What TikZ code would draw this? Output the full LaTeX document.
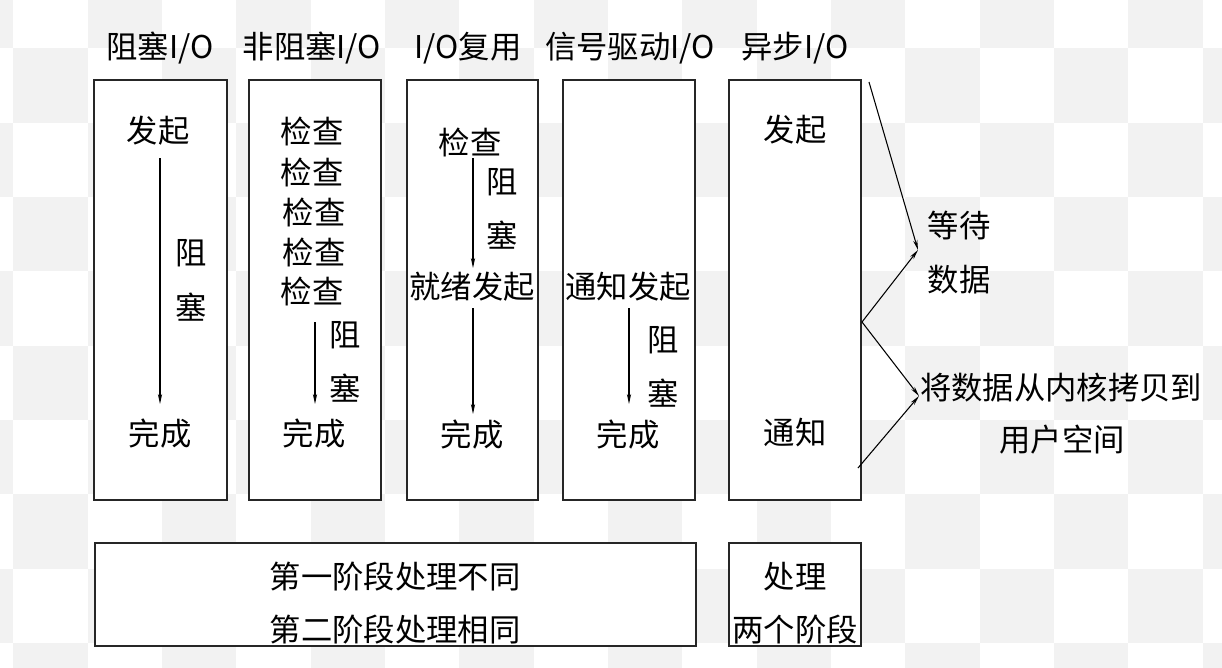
\documentclass[tikz,border=0pt]{standalone}
\usepackage{fontspec}
\newfontfamily\cjk{Noto Sans CJK SC}
\usetikzlibrary{arrows.meta}
\definecolor{chk}{RGB}{242,242,242}
\tikzset{
  lbl/.style={font=\cjk\fontsize{23.5}{28}\selectfont, inner sep=0pt, anchor=center},
  box/.style={draw=black!85, line width=1pt, fill=white, inner sep=0pt},
  arr/.style={draw=black, line width=0.8pt, -{Stealth[length=7.5pt,width=3.2pt]}},
  ln/.style={draw=black, line width=0.8pt}
}
\begin{document}
\begin{tikzpicture}[x=0.75pt,y=-0.75pt]
\useasboundingbox (0,0) rectangle (1222,668);
\fill[white] (0,0) rectangle (1222,668);
\begin{scope}
\clip (0,0) rectangle (1222,668);
\foreach \i in {-1,...,16}{
  \foreach \j in {-1,...,8}{
    \pgfmathtruncatemacro\chkpar{mod(\i+\j+20,2)}
    \ifnum\chkpar=0
      \fill[chk] ({13.4+\i*74.33},{48.3+\j*74.33}) rectangle ({13.4+(\i+1)*74.33},{48.3+(\j+1)*74.33});
    \fi
  }
}
\end{scope}

% titles
\node[lbl] (t1) at (160,48) {阻塞I/O};
\node[lbl] (t2) at (312,48) {非阻塞I/O};
\node[lbl] (t3) at (468,48) {I/O复用};
\node[lbl] (t4) at (630,48) {信号驱动I/O};
\node[lbl] (t5) at (795,48) {异步I/O};

% column boxes
\node[box, minimum width=133*0.75pt, minimum height=420*0.75pt] (c1) at (160.5,290) {};
\node[box, minimum width=132*0.75pt, minimum height=420*0.75pt] (c2) at (315,290) {};
\node[box, minimum width=131*0.75pt, minimum height=420*0.75pt] (c3) at (472.5,290) {};
\node[box, minimum width=132*0.75pt, minimum height=420*0.75pt] (c4) at (629,290) {};
\node[box, minimum width=132*0.75pt, minimum height=420*0.75pt] (c5) at (795,290) {};

% bottom boxes
\node[box, minimum width=601*0.75pt, minimum height=103*0.75pt] (b1) at (395.5,594.5) {};
\node[box, minimum width=132*0.75pt, minimum height=103*0.75pt] (b2) at (795,594.5) {};

% column 1
\node[lbl] (a1) at (158,131) {发起};
\node[lbl] (a2) at (191,253) {阻};
\node[lbl] (a3) at (191,307) {塞};
\node[lbl] (a4) at (160,434) {完成};
\coordinate (a1s) at (160,158);
\coordinate (a1e) at (160,404);
\draw[arr] (a1s) -- (a1e);

% column 2
\node[lbl] (k1) at (312,131) {检查};
\node[lbl] (k2) at (312,172) {检查};
\node[lbl] (k3) at (314,212) {检查};
\node[lbl] (k4) at (314,252) {检查};
\node[lbl] (k5) at (312,291) {检查};
\node[lbl] (k6) at (345,335) {阻};
\node[lbl] (k7) at (345,388) {塞};
\node[lbl] (k8) at (314,434) {完成};
\coordinate (k5s) at (315,322);
\coordinate (k5e) at (315,404);
\draw[arr] (k5s) -- (k5e);

% column 3
\node[lbl] (m1) at (470,142) {检查};
\node[lbl] (m2) at (502,182) {阻};
\node[lbl] (m3) at (502,235) {塞};
\node[lbl] (m4) at (472,287) {就绪发起};
\node[lbl] (m5) at (472,435) {完成};
\coordinate (m1s) at (473,158);
\coordinate (m1e) at (473,268);
\coordinate (m4s) at (473,308);
\coordinate (m4e) at (473,414);
\draw[arr] (m1s) -- (m1e);
\draw[arr] (m4s) -- (m4e);

% column 4
\node[lbl] (s1) at (628,287) {通知发起};
\node[lbl] (s2) at (663,340) {阻};
\node[lbl] (s3) at (663,393) {塞};
\node[lbl] (s4) at (628,435) {完成};
\coordinate (s1s) at (629,308);
\coordinate (s1e) at (629,404);
\draw[arr] (s1s) -- (s1e);

% column 5
\node[lbl] (y1) at (795,130) {发起};
\node[lbl] (y2) at (795,433) {通知};

% right side
\node[lbl] (w1) at (959,225) {等待};
\node[lbl] (w2) at (959,280) {数据};
\node[lbl] (p1) at (1061,388) {将数据从内核拷贝到};
\node[lbl] (p2) at (1062,440) {用户空间};
\coordinate (r0) at (869,82);
\coordinate (rw) at (918,250);
\coordinate (rm) at (862,322);
\coordinate (rp) at (919,396);
\coordinate (rb) at (858,468);
\draw[arr] (r0) -- (rw);
\draw[arr] (rm) -- (rw);
\draw[arr] (rm) -- (rp);
\draw[arr] (rb) -- (rp);

% bottom texts
\node[lbl] (d1) at (395,577) {第一阶段处理不同};
\node[lbl] (d2) at (395,630) {第二阶段处理相同};
\node[lbl] (e1) at (795,577) {处理};
\node[lbl] (e2) at (795,630) {两个阶段};
\end{tikzpicture}
\end{document}
